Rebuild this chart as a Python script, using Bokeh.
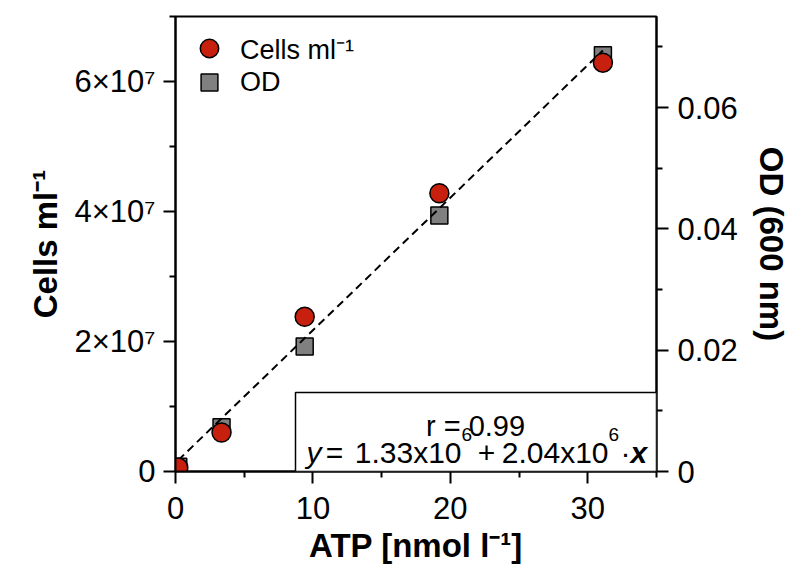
from bokeh.plotting import figure
from bokeh.models import Range1d, LinearAxis, FixedTicker, BoxAnnotation, Label, Legend, LegendItem
from bokeh.embed import file_html
from bokeh.resources import INLINE

# ---------------- data ----------------
atp = [0.2, 3.35, 9.4, 19.2, 31.1]                       # ATP [nmol l-1]
cells = [0.06e7, 0.60e7, 2.38e7, 4.28e7, 6.29e7]          # Cells ml-1
od = [0.0008, 0.0073, 0.0206, 0.0422, 0.0686]             # OD (600 nm)
fit_intercept = 1.33e6
fit_slope = 2.04e6
fit_r = 0.99

x_ticks = [0, 10, 20, 30]
x_minor = [5, 15, 25, 35]
y_ticks = [0, 2e7, 4e7, 6e7]
y_minor = [1e7, 3e7, 5e7, 7e7]
y_tick_labels = ["0", "2×10⁷", "4×10⁷", "6×10⁷"]
od_ticks = [0, 0.02, 0.04, 0.06]
od_minor = [0.01, 0.03, 0.05, 0.07]
od_tick_labels = ["0", "0.02", "0.04", "0.06"]

# ---------------- layout constants ----------------
W, H = 793, 569
FL, FR, FT, FB = 175, 656, 16, 471     # frame edges in pixels
X0, X1 = 0, 35
Y0, Y1 = 0, 7e7
OD0, OD1 = 0, 0.075
FONT = "Liberation Sans"
RED = "#c8200e"
GRAY = "#808080"


def sx(px):
    return X0 + (px - FL) / (FR - FL) * (X1 - X0)


def sy(py):
    return Y0 + (FB - py) / (FB - FT) * (Y1 - Y0)


p = figure(width=W, height=H, output_backend="svg", toolbar_location=None,
           x_range=Range1d(X0, X1), y_range=Range1d(Y0, Y1),
           min_border_left=FL, min_border_right=W - FR,
           min_border_top=FT, min_border_bottom=H - FB)
p.extra_y_ranges = {"od": Range1d(OD0, OD1)}
p.grid.visible = False
p.outline_line_color = "black"
p.outline_line_width = 2
p.background_fill_color = "white"
p.border_fill_color = "white"

right = LinearAxis(y_range_name="od")
p.add_layout(right, "right")


def style_axis(ax, label):
    ax.axis_label = label
    ax.axis_label_text_font = FONT
    ax.axis_label_text_font_style = "bold"
    ax.axis_label_text_font_size = "33px"
    ax.axis_label_text_color = "black"
    ax.major_label_text_font = FONT
    ax.major_label_text_font_size = "31px"
    ax.major_label_text_color = "black"
    ax.axis_line_width = 2
    ax.major_tick_line_width = 2
    ax.minor_tick_line_width = 2
    ax.major_tick_in = 0
    ax.major_tick_out = 12
    ax.minor_tick_in = 0
    ax.minor_tick_out = 6


xa = p.xaxis[0]
ya = p.yaxis[0]
style_axis(xa, "ATP [nmol l⁻¹]")
style_axis(ya, "Cells ml⁻¹")
style_axis(right, "OD (600 nm)")
xa.ticker = FixedTicker(ticks=x_ticks, minor_ticks=x_minor)
ya.ticker = FixedTicker(ticks=y_ticks, minor_ticks=y_minor)
ya.major_label_overrides = {t: s for t, s in zip(y_ticks, y_tick_labels)}
right.ticker = FixedTicker(ticks=od_ticks, minor_ticks=od_minor)
right.major_label_overrides = {t: s for t, s in zip(od_ticks, od_tick_labels)}
xa.major_label_standoff = 13
xa.axis_label_standoff = 5
ya.major_label_standoff = 8
ya.axis_label_standoff = 7
right.major_label_standoff = 9
right.axis_label_standoff = 12

# ---------------- marks ----------------
r_od = p.scatter(atp, od, y_range_name="od", marker="square", size=17,
                 fill_color=GRAY, line_color="black", line_width=1.5)
fit_x = [min(atp), max(atp)]
fit_y = [fit_intercept + fit_slope * v for v in fit_x]
p.line(fit_x, fit_y, line_dash="8 5", line_width=2, line_color="black")
r_cells = p.scatter(atp, cells, marker="circle", size=19,
                    fill_color=RED, line_color="black", line_width=1.5)


def make_legend(label, renderer, loc, gh):
    lg = Legend(items=[LegendItem(label=label, renderers=[renderer])], location=loc)
    lg.border_line_color = None
    lg.background_fill_alpha = 0
    lg.label_text_font = FONT
    lg.label_text_font_size = "27px"
    lg.label_text_color = "black"
    lg.glyph_width = 46
    lg.glyph_height = gh
    lg.label_height = 30
    lg.label_standoff = 8
    lg.padding = 0
    lg.margin = 0
    p.add_layout(lg)


make_legend("Cells ml⁻¹", r_cells, (11, 400), 46)
make_legend("OD", r_od, (11, 368), 42)

# ---------------- regression box ----------------
box = BoxAnnotation(left=sx(295), right=X1, bottom=Y0, top=sy(392),
                    fill_color="white", fill_alpha=1,
                    line_color="black", line_alpha=1, line_width=1.5)
p.add_layout(box)

TXT = dict(text_font=FONT, text_color="black", text_baseline="alphabetic")
BIG = "30px"
SMALL = "19px"
p.add_layout(Label(x=sx(475), y=sy(425), text=f"r = {fit_r:.2f}", text_align="center",
                   text_font_size="29px", **TXT))
base = sy(452)
sup = sy(434)
p.add_layout(Label(x=sx(306), y=base, text="y", text_font_style="italic",
                   text_font_size=BIG, **TXT))
p.add_layout(Label(x=sx(334), y=base, text="=", text_align="center",
                   text_font_size=BIG, **TXT))
p.add_layout(Label(x=sx(461), y=base, text=f"{fit_intercept/1e6:.2f}x10", text_align="right",
                   text_font_size=BIG, **TXT))
p.add_layout(Label(x=sx(461), y=sup, text="6", text_font_size=SMALL, **TXT))
p.add_layout(Label(x=sx(486), y=base, text="+", text_align="center",
                   text_font_size=BIG, **TXT))
p.add_layout(Label(x=sx(608), y=base, text=f"{fit_slope/1e6:.2f}x10", text_align="right",
                   text_font_size=BIG, **TXT))
p.add_layout(Label(x=sx(608), y=sup, text="6", text_font_size=SMALL, **TXT))
p.add_layout(Label(x=sx(625), y=base, text="·", text_align="center",
                   text_font_size=BIG, **TXT))
p.add_layout(Label(x=sx(630), y=base, text="x", text_font_style="bold italic",
                   text_font_size=BIG, **TXT))

open("out.html", "w").write(file_html(p, INLINE))
